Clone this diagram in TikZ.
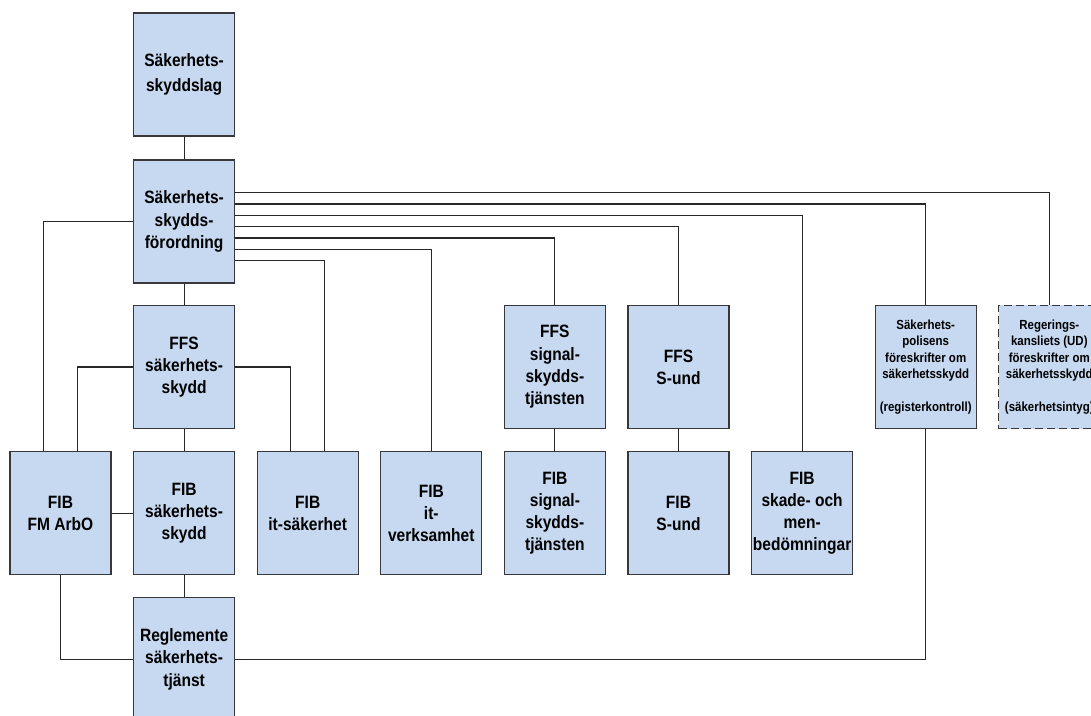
\documentclass[tikz,border=0pt]{standalone}
\usepackage{fontspec}
\setmainfont{Liberation Sans}
\newfontfamily\boxfont[FakeStretch=0.87]{Liberation Sans}
\usetikzlibrary{calc}

\definecolor{boxfill}{RGB}{198,217,241}
\definecolor{boxline}{RGB}{55,55,60}
\definecolor{wire}{RGB}{40,40,40}

\tikzset{
  docbox/.style={draw=boxline, line width=1pt, fill=boxfill, rectangle,
    minimum width=75.75pt, minimum height=92.25pt, inner sep=0pt,
    align=center, font=\boxfont\bfseries\fontsize{13.4pt}{16.7pt}\selectfont},
  smallbox/.style={docbox, font=\boxfont\bfseries\fontsize{9.9pt}{12.4pt}\selectfont},
  wire/.style={draw=wire, line width=0.8pt},
}

\begin{document}
\begin{tikzpicture}[x=0.75pt, y=-0.75pt]
\useasboundingbox (0,0) rectangle (1091,716);
\clip (0,0) rectangle (1091,716);

% top chain: law, ordinance, regulations
\node[docbox, font=\boxfont\bfseries\fontsize{13.4pt}{18.5pt}\selectfont] (lag) at (184.1,74.5) {Säkerhets-\\skyddslag};
\node[docbox] (ford) at (184.1,221.5) {Säkerhets-\\skydds-\\förordning};

% FFS row
\node[docbox] (ffs)     at (184.1,367) {FFS\\säkerhets-\\skydd};
\node[docbox] (ffssig)  at (554.9,367) {FFS\\signal-\\skydds-\\tjänsten};
\node[docbox] (ffssund) at (678.5,367) {FFS\\S-und};
\node[smallbox] (sapo)  at (925.7,367) {Säkerhets-\\polisens\\föreskrifter om\\säkerhetsskydd\\[12.4pt](registerkontroll)};
\node[smallbox, dash pattern=on 6pt off 3pt] (rk) at (1049.3,367) {Regerings-\\kansliets (UD)\\föreskrifter om\\säkerhetsskydd\\[12.4pt](säkerhetsintyg)};

% FIB row
\node[docbox] (fibarbo)  at (60.5,513.3)  {FIB\\FM ArbO};
\node[docbox] (fibsak)   at (184.1,513.3) {FIB\\säkerhets-\\skydd};
\node[docbox] (fibit)    at (307.7,513.3) {FIB\\it-säkerhet};
\node[docbox] (fibitv)   at (431.3,513.3) {FIB\\it-\\verksamhet};
\node[docbox] (fibsig)   at (554.9,513.3) {FIB\\signal-\\skydds-\\tjänsten};
\node[docbox] (fibsund)  at (678.5,513.3) {FIB\\S-und};
\node[docbox] (fibskade) at (802.1,513.3) {FIB\\skade- och\\men-\\bedömningar};

% handbook
\node[docbox] (regl) at (184.1,659.2) {Reglemente\\säkerhets-\\tjänst};

% vertical chain
\draw[wire] (lag.south) -- (ford.north);
\draw[wire] (ford.south) -- (ffs.north);
\draw[wire] (ffs.south) -- (fibsak.north);
\draw[wire] (fibsak.south) -- (regl.north);
\draw[wire] (ffssig.south) -- (fibsig.north);
\draw[wire] (ffssund.south) -- (fibsund.north);

% fan-out from the ordinance
\draw[wire] ($(ford.east)+(0,-28.8)$) -| (rk.north);
\draw[wire] ($(ford.east)+(0,-17.5)$) -| (sapo.north);
\draw[wire] ($(ford.east)+(0,-6.1)$)  -| (fibskade.north);
\draw[wire] ($(ford.east)+(0,5.2)$)   -| (ffssund.north);
\draw[wire] ($(ford.east)+(0,16.5)$)  -| (ffssig.north);
\draw[wire] ($(ford.east)+(0,27.9)$)  -| (fibitv.north);
\draw[wire] ($(ford.east)+(0,39.2)$)  -| ($(fibit.north)+(17,0)$);
\draw[wire] (ford.west) -| ($(fibarbo.north)+(-17.2,0)$);

% from FFS säkerhetsskydd
\draw[wire] (ffs.west) -| ($(fibarbo.north)+(17.2,0)$);
\draw[wire] (ffs.east) -| ($(fibit.north)+(-17,0)$);

% lower links
\draw[wire] (fibarbo.east) -- (fibsak.west);
\draw[wire] (fibarbo.south) |- (regl.west);
\draw[wire] (regl.east) -| (sapo.south);
\end{tikzpicture}
\end{document}
